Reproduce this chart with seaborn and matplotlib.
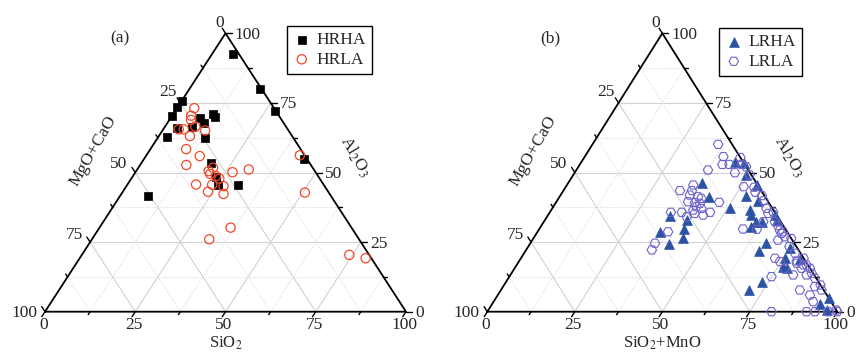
import numpy as np
import pandas as pd
import matplotlib
matplotlib.use("Agg")
import matplotlib.pyplot as plt
import seaborn as sns

# ---------------- data (wt.% compositions) ----------------
tick_values = [0, 25, 50, 75, 100]
tick_labels = ["0", "25", "50", "75", "100"]

# panel (a)
hrha_sio2 = [5.8, 19.6, 27.7, 44.4, 0.1, 0.0, 0.0, 2.3, 3.6, 7.5, 8.2, 10.1, 13.2, 11.2, 12.2,
             19.4, 23.2, 25.3, 30.6, 7.7]
hrha_al2o3 = [92.5, 79.9, 72.2, 54.7, 75.7, 73.4, 70.3, 62.9, 65.9, 66.2, 69.5, 67.7, 62.3, 70.9, 69.8,
              53.3, 48.5, 45.5, 45.5, 41.7]
hrha_mgocao = [1.7, 0.5, 0.1, 0.9, 24.2, 26.6, 29.7, 34.8, 30.5, 26.3, 22.3, 22.2, 24.5, 17.9, 18.0,
               27.3, 28.3, 29.2, 23.9, 50.6]

hrla_sio2 = [4.8, 5.3, 6.0, 8.4, 4.3, 5.7, 8.6, 11.8, 9.9, 14.9, 12.8, 20.7, 20.1, 21.0, 23.0,
             24.4, 26.9, 30.9, 19.0, 23.5, 26.9, 23.6, 28.3, 36.3, 32.5, 42.5, 50.6, 74.1, 79.2]
hrla_al2o3 = [73.1, 70.4, 68.9, 66.5, 65.5, 65.5, 63.1, 65.1, 58.4, 55.9, 52.7, 51.7, 50.5, 49.5, 48.7,
              47.8, 50.1, 51.1, 45.7, 45.6, 45.1, 43.1, 42.3, 30.2, 26.0, 56.2, 42.8, 20.4, 19.2]
hrla_mgocao = [22.1, 24.3, 25.1, 25.1, 30.2, 28.8, 28.3, 23.1, 31.7, 29.2, 34.5, 27.6, 29.4, 29.5, 28.3,
               27.8, 23.0, 18.0, 35.3, 30.9, 28.0, 33.3, 29.4, 33.5, 41.5, 1.3, 6.6, 5.5, 1.6]

# panel (b)
lrha_sio2mno = [43.9, 46.5, 49.3, 54.3, 38.3, 42.9, 50.7, 53.1, 57.5, 56.7, 58.1, 35.0, 35.0, 40.5, 41.4,
                42.8, 39.9, 60.2, 60.6, 67.2, 66.7, 75.1, 79.9, 75.4, 76.3, 77.9, 73.0, 71.0, 95.2, 96.7,
                93.6, 66.2, 62.2, 64.8]
lrha_al2o3 = [53.9, 53.5, 49.1, 45.5, 46.3, 41.1, 37.1, 41.6, 39.8, 36.5, 34.7, 34.4, 28.5, 32.9, 29.6,
              26.3, 24.2, 30.5, 32.3, 24.8, 21.9, 22.8, 18.8, 19.2, 16.2, 15.6, 10.8, 7.8, 4.8, 0.6,
              2.8, 32.9, 32.3, 34.7]
lrha_mgocao = [2.2, 0.0, 1.6, 0.2, 15.4, 16.0, 12.2, 5.3, 2.7, 6.8, 7.2, 30.6, 36.5, 26.6, 29.0,
               30.9, 35.9, 9.3, 7.1, 8.0, 11.4, 2.1, 1.3, 5.4, 7.5, 6.5, 16.2, 21.2, 0.0, 2.7,
               3.6, 0.9, 5.5, 0.5]

lrla_sio2mno = [35.9, 39.6, 40.7, 44.6, 47.9, 45.8, 37.6, 50.4, 50.8, 53.9, 55.1, 57.6, 59.0, 61.2, 62.6,
                63.8, 66.0, 67.6, 70.2, 71.5, 68.9, 73.7, 74.6, 77.4, 79.7, 58.2, 62.2, 62.7, 70.0, 70.2,
                74.9, 77.2, 80.8, 82.0, 82.8, 85.8, 87.6, 85.4, 89.2, 89.1, 91.6, 91.3, 81.2, 91.2, 93.6,
                99.4, 100.0, 97.4, 90.4, 80.8, 81.9, 79.3, 84.6, 84.4, 36.1, 33.3, 36.7, 36.9, 39.6, 37.6,
                39.7, 40.8, 41.3, 46.6, 34.6, 37.7, 41.6, 44.3, 45.8, 40.6, 42.6, 37.3, 35.6, 35.9, 40.9,
                39.9, 72.6, 74.6, 42.7, 46.2]
lrla_al2o3 = [60.1, 55.7, 52.9, 55.4, 52.1, 49.9, 50.9, 49.1, 44.9, 44.7, 42.9, 41.7, 39.9, 37.1, 35.3,
              35.8, 32.3, 30.9, 28.7, 26.9, 29.3, 26.3, 23.4, 21.0, 17.4, 29.7, 29.6, 32.3, 28.1, 25.7,
              12.6, 15.6, 13.2, 15.6, 16.8, 13.8, 12.0, 7.8, 6.0, 9.0, 7.8, 3.6, 0.0, 0.0, 0.0,
              0.6, 0.0, 0.0, 9.6, 19.2, 16.8, 18.2, 13.2, 15.6, 45.5, 43.5, 43.5, 41.9, 41.3, 39.5,
              39.2, 40.7, 38.9, 39.3, 35.7, 35.7, 35.3, 34.7, 35.7, 36.5, 37.1, 28.7, 24.6, 22.2, 37.7,
              34.1, 19.2, 18.0, 52.9, 52.9]
lrla_mgocao = [4.0, 4.7, 6.4, 0.0, 0.0, 4.3, 11.5, 0.5, 4.3, 1.4, 2.0, 0.7, 1.1, 1.7, 2.1,
               0.4, 1.7, 1.5, 1.1, 1.6, 1.8, 0.0, 2.0, 1.6, 2.9, 12.1, 8.2, 5.0, 1.9, 4.1,
               12.5, 7.2, 6.0, 2.4, 0.4, 0.4, 0.4, 6.8, 4.8, 1.9, 0.6, 5.1, 18.8, 8.8, 6.4,
               0.0, 0.0, 2.6, 0.0, 0.0, 1.3, 2.5, 2.2, 0.0, 18.4, 23.2, 19.8, 21.2, 19.1, 22.9,
               21.1, 18.5, 19.8, 14.1, 29.7, 26.6, 23.1, 21.0, 18.5, 22.9, 20.3, 34.0, 39.8, 41.9, 21.4,
               26.0, 8.2, 7.4, 4.4, 0.9]

# ---------------- style ----------------
sns.set_theme(style="white")
plt.rcParams["font.family"] = ["Liberation Serif", "DejaVu Serif"]
plt.rcParams["mathtext.fontset"] = "stix"

FS = 12.5
GRID_MAJ = "#d2d2d2"
GRID_MIN = "#dedede"

fig = plt.figure(figsize=(8.6, 3.52), dpi=100)
FW, FH = 860.0, 352.0


def to_xy(s, a, m):
    s = np.asarray(s, float); a = np.asarray(a, float); m = np.asarray(m, float)
    t = s + a + m
    s, a = s / t * 100, a / t * 100
    return s + a / 2.0, a


class Panel:
    def __init__(self, left, right, bottom, top):
        self.wpx = right - left
        self.hpx = bottom - top
        self.ax = fig.add_axes([left / FW, (FH - bottom) / FH, self.wpx / FW, self.hpx / FH])
        self.ax.set_xlim(0, 100)
        self.ax.set_ylim(0, 100)
        self.ax.axis("off")

    def off(self, x, y, dx, dy):
        return x + dx * 100.0 / self.wpx, y - dy * 100.0 / self.hpx


def draw_frame(p, bottom_title, left_title, right_title):
    ax = p.ax
    hw, h = p.wpx / 2.0, p.hpx
    n = np.hypot(hw, h)
    d_bottom = (-hw / n, h / n)    # px, y down
    d_left = (-hw / n, -h / n)
    d_right = (1.0, 0.0)
    # grid
    for v in np.arange(12.5, 100, 12.5):
        major = abs(v % 25) < 1e-9
        kw = dict(color=GRID_MAJ, lw=0.8, ls="-", zorder=1) if major else \
            dict(color=GRID_MIN, lw=0.7, ls=(0, (1.5, 1.5)), zorder=1)
        for seg in ([(0, v, 100 - v), (100 - v, v, 0)],
                    [(v, 0, 100 - v), (v, 100 - v, 0)],
                    [(100 - v, 0, v), (0, 100 - v, v)]):
            xs, ys = to_xy(*zip(*seg))
            ax.plot(xs, ys, **kw)
    # edges
    xs, ys = to_xy([0, 100, 0, 0], [0, 0, 100, 0], [100, 0, 0, 100])
    ax.plot(xs, ys, color="black", lw=1.3, zorder=3, clip_on=False, solid_joinstyle="miter")
    # ticks
    for v in np.arange(0, 100.01, 12.5):
        major = abs(v % 25) < 1e-9
        L = 6.0 if major else 3.5
        for pt, d in (((v, 0, 100 - v), d_bottom),
                      ((100 - v, v, 0), d_right),
                      ((0, 100 - v, v), d_left)):
            x0, y0 = to_xy(*pt)
            x1, y1 = p.off(float(x0), float(y0), d[0] * L, d[1] * L)
            ax.plot([x0, x1], [y0, y1], color="black", lw=1.0, zorder=3, clip_on=False)
    # tick labels
    left_offsets = [(-2, -10), (-4, -10.5), (-8, -8.5), (-7, -7), (-7.5, 1.5)]
    for v, lab, lo in zip(tick_values, tick_labels, left_offsets):
        # bottom axis
        x0, y0 = to_xy(v, 0, 100 - v)
        tx, ty = p.off(float(x0), float(y0), -1.5, 13.5)
        ax.text(tx, ty, lab, ha="center", va="center", fontsize=FS)
        # right axis
        x0, y0 = to_xy(100 - v, v, 0)
        tx, ty = p.off(float(x0), float(y0), 9, 1.5)
        ax.text(tx, ty, lab, ha="left", va="center", fontsize=FS)
        # left axis
        x0, y0 = to_xy(0, 100 - v, v)
        tx, ty = p.off(float(x0), float(y0), lo[0], lo[1])
        ax.text(tx, ty, lab, ha="right", va="center", fontsize=FS)
    # axis titles
    x0, y0 = to_xy(50, 0, 50)
    tx, ty = p.off(float(x0), float(y0), 0, 32)
    ax.text(tx, ty, bottom_title, ha="center", va="center", fontsize=12)
    x0, y0 = to_xy(0, 50, 50)
    tx, ty = p.off(float(x0), float(y0), -42, -21.5)
    ax.text(tx, ty, left_title, ha="center", va="center", fontsize=FS, rotation=60,
            rotation_mode="anchor")
    x0, y0 = to_xy(50, 50, 0)
    tx, ty = p.off(float(x0), float(y0), 39, -16)
    ax.text(tx, ty, right_title, ha="center", va="center", fontsize=FS, rotation=-60,
            rotation_mode="anchor")


def series_df(s, a, m):
    x, y = to_xy(s, a, m)
    return pd.DataFrame({"x": x, "y": y})


# ---------------- panel (a) ----------------
pa = Panel(45, 406, 311.7, 33.3)
draw_frame(pa, r"SiO$_2$", "MgO+CaO", r"Al$_2$O$_3$")
sns.scatterplot(data=series_df(hrha_sio2, hrha_al2o3, hrha_mgocao), x="x", y="y", ax=pa.ax,
                marker="s", s=36, color="black", edgecolor="black", linewidth=0.5,
                label="HRHA", clip_on=False, zorder=4)
sns.scatterplot(data=series_df(hrla_sio2, hrla_al2o3, hrla_mgocao), x="x", y="y", ax=pa.ax,
                marker="o", s=44, facecolor="none", edgecolor="#ee4a2c", linewidth=0.9,
                label="HRLA", clip_on=False, zorder=5)
pa.ax.set_xlim(0, 100); pa.ax.set_ylim(0, 100)
pa.ax.text(*pa.off(0, 100, 75, 5), "(a)", ha="center", va="center", fontsize=FS,
           transform=pa.ax.transData)

# ---------------- panel (b) ----------------
pb = Panel(487.3, 837.3, 311.7, 33.3)
draw_frame(pb, r"SiO$_2$+MnO", "MgO+CaO", r"Al$_2$O$_3$")
sns.scatterplot(data=series_df(lrha_sio2mno, lrha_al2o3, lrha_mgocao), x="x", y="y", ax=pb.ax,
                marker="^", s=50, color="#2b52a3", edgecolor="#2b52a3", linewidth=0.5,
                label="LRHA", clip_on=False, zorder=4)
sns.scatterplot(data=series_df(lrla_sio2mno, lrla_al2o3, lrla_mgocao), x="x", y="y", ax=pb.ax,
                marker="H", s=46, facecolor="none", edgecolor="#6c62c9", linewidth=0.8,
                label="LRLA", clip_on=False, zorder=5)
pb.ax.set_xlim(0, 100); pb.ax.set_ylim(0, 100)
pb.ax.text(*pb.off(0, 100, 63, 5), "(b)", ha="center", va="center", fontsize=FS,
           transform=pb.ax.transData)

# legends
for p, (lx, ly) in ((pa, (287, 26)), (pb, (719, 28))):
    leg = p.ax.legend(loc="upper left", bbox_to_anchor=(lx / FW, 1 - ly / FH),
                      bbox_transform=fig.transFigure, frameon=True, fancybox=False,
                      edgecolor="black", framealpha=1, borderpad=0.35, handletextpad=0.35,
                      labelspacing=0.2, handlelength=1.0, borderaxespad=0, fontsize=FS,
                      scatterpoints=1)
    leg.get_frame().set_linewidth(1.0)

fig.savefig("out.png", dpi=100)
